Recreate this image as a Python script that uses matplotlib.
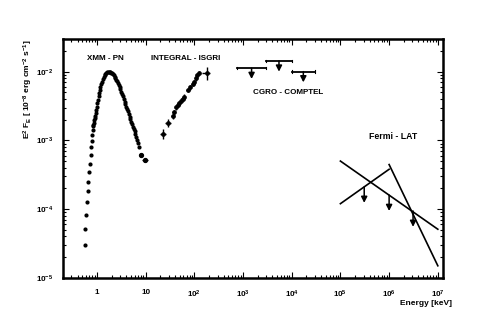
import matplotlib
matplotlib.use("Agg")
import matplotlib.pyplot as plt
import numpy as np
from matplotlib.ticker import LogLocator, FixedLocator, NullFormatter

plt.rcParams['font.family'] = ['Liberation Sans', 'DejaVu Sans']
plt.rcParams['font.weight'] = 'bold'
plt.rcParams['mathtext.fontset'] = 'custom'
plt.rcParams['mathtext.rm'] = 'Liberation Sans:bold'
plt.rcParams['mathtext.it'] = 'Liberation Sans:bold'
plt.rcParams['mathtext.bf'] = 'Liberation Sans:bold'
plt.rcParams['mathtext.default'] = 'rm'

# XMM-PN spectrum (keV, 1e-8 erg cm-2 s-1)
xmm_e = [0.56, 0.575, 0.586, 0.615, 0.644, 0.663, 0.695, 0.729, 0.743, 0.764, 0.778,
         0.80, 0.816, 0.84, 0.85, 0.868, 0.88, 0.90, 0.92, 0.94, 0.967, 0.99, 1.02,
         1.05, 1.08, 1.11, 1.136, 1.17, 1.21, 1.267, 1.32, 1.38, 1.439, 1.50, 1.56,
         1.63, 1.70, 1.76, 1.83, 1.90, 1.97, 2.05, 2.14, 2.22, 2.31, 2.40, 2.50, 2.60,
         2.70, 2.80, 2.92, 3.04, 3.16, 3.28, 3.42, 3.55, 3.70, 3.85, 4.0, 4.17, 4.33,
         4.5, 4.7, 4.88, 5.06, 5.27, 5.5, 5.7, 5.94, 6.15, 6.4, 6.72, 6.95, 7.28]
xmm_f = [3.0e-5, 5.1e-5, 8.2e-5, 1.26e-4, 1.81e-4, 2.52e-4, 3.5e-4, 4.6e-4, 6.2e-4,
         8.0e-4, 9.9e-4, 1.21e-3, 1.43e-3, 1.6e-3, 1.7e-3, 1.79e-3, 1.95e-3, 2.1e-3,
         2.3e-3, 2.5e-3, 2.79e-3, 3.1e-3, 3.45e-3, 3.89e-3, 4.35e-3, 4.9e-3, 5.43e-3,
         5.95e-3, 6.5e-3, 7.17e-3, 7.7e-3, 8.4e-3, 8.96e-3, 9.3e-3, 9.6e-3, 9.8e-3,
         9.95e-3, 1.0e-2, 1.0e-2, 9.85e-3, 9.67e-3, 9.4e-3, 9.1e-3, 8.8e-3, 8.47e-3,
         8.05e-3, 7.6e-3, 7.2e-3, 6.79e-3, 6.35e-3, 5.9e-3, 5.5e-3, 5.13e-3, 4.75e-3,
         4.35e-3, 4.0e-3, 3.67e-3, 3.4e-3, 3.1e-3, 2.85e-3, 2.63e-3, 2.4e-3, 2.2e-3,
         2.05e-3, 1.88e-3, 1.72e-3, 1.58e-3, 1.46e-3, 1.35e-3, 1.24e-3, 1.12e-3,
         1.02e-3, 9.2e-4, 8.0e-4]
xmm_hi_e = [7.9, 9.8]
xmm_hi_f = [6.2e-4, 5.2e-4]
xmm_hi_ex = [0.4, 1.3]
xmm_hi_ey = [0.4e-4, 0.4e-4]

# INTEGRAL-ISGRI
isgri_e = [23, 29.1, 35.8, 38.1, 41.9, 45.4, 49, 53.1, 57.5, 62.1, 72.8, 81.2, 92.3,
           98.6, 106, 115, 124, 179]
isgri_f = [1.25e-3, 1.79e-3, 2.28e-3, 2.55e-3, 3.01e-3, 3.29e-3, 3.48e-3, 3.8e-3,
           4.02e-3, 4.34e-3, 5.43e-3, 5.94e-3, 6.63e-3, 7.16e-3, 8.0e-3, 8.96e-3,
           9.48e-3, 9.67e-3]
isgri_ex = [3, 3.5, 3, 2.5, 2.5, 2.5, 2.5, 3, 3, 3.5, 4, 4.5, 5, 5, 5, 6, 6, 35]
isgri_ey = [1.9e-4, 2.4e-4, 2.5e-4, 2.5e-4, 2.5e-4, 2.5e-4, 2.5e-4, 3e-4, 3e-4,
            3.5e-4, 4e-4, 4.5e-4, 5e-4, 5e-4, 6e-4, 6e-4, 6e-4, 2.0e-3]

# CGRO-COMPTEL upper limits
comptel_lo = [750, 3000, 10000]
comptel_hi = [3000, 10000, 30000]
comptel_f = [1.12e-2, 1.43e-2, 1.0e-2]

# Fermi-LAT butterfly lines and upper limits
lat_a_e = [1e5, 1e7]
lat_a_f = [5.0e-4, 5.1e-5]
lat_b_e = [1e5, 1e6]
lat_b_f = [1.2e-4, 3.8e-4]
lat_c_e = [1e6, 1e7]
lat_c_f = [4.45e-4, 1.5e-5]
lat_ul_e = [3.08e5, 1e6, 3.1e6]
lat_ul_f = [2.1e-4, 1.6e-4, 9.4e-5]

fig = plt.figure(figsize=(4.91, 3.32), dpi=100)
ax = fig.add_axes([0.128, 0.163, 0.774, 0.7195])
ax.set_xscale('log')
ax.set_yscale('log')
ax.set_xlim(0.2, 1.27e7)
ax.set_ylim(1e-5, 2.98e-2)

ax.plot(xmm_e, xmm_f, 'o', color='black', ms=3.0, mew=0)
ax.errorbar(xmm_hi_e, xmm_hi_f, xerr=xmm_hi_ex, yerr=xmm_hi_ey, fmt='o', color='black',
            ms=2.8, elinewidth=0.9, capsize=0)
ax.errorbar(isgri_e, isgri_f, xerr=isgri_ex, yerr=isgri_ey, fmt='o', color='black',
            ms=2.4, elinewidth=1.0, capsize=0)

arrow_kw = dict(arrowstyle='-|>,head_length=0.35,head_width=0.18', color='black', lw=1.1,
                shrinkA=0, shrinkB=0)
for lo, hi, f in zip(comptel_lo, comptel_hi, comptel_f):
    ax.plot([lo, hi], [f, f], color='black', lw=1.3)
    ax.plot([lo, lo], [f / 1.04, f * 1.04], color='black', lw=0.8)
    ax.plot([hi, hi], [f / 1.04, f * 1.04], color='black', lw=0.8)
    c = np.sqrt(lo * hi)
    ax.annotate('', xy=(c, f / 1.43), xytext=(c, f), arrowprops=arrow_kw)

ax.plot(lat_a_e, lat_a_f, color='black', lw=1.2)
ax.plot(lat_b_e, lat_b_f, color='black', lw=1.2)
ax.plot(lat_c_e, lat_c_f, color='black', lw=1.2)
for e, f in zip(lat_ul_e, lat_ul_f):
    ax.annotate('', xy=(e, f / 1.7), xytext=(e, f), arrowprops=arrow_kw)

# texts
fs = 5.8
ax.text(1.46, 1.53e-2, 'XMM - PN', ha='center', va='center', fontsize=fs, fontweight='bold')
ax.text(67, 1.53e-2, 'INTEGRAL - ISGRI', ha='center', va='center', fontsize=fs, fontweight='bold')
ax.text(8600, 4.9e-3, 'CGRO - COMPTEL', ha='center', va='center', fontsize=fs, fontweight='bold')
ax.text(1.2e6, 1.13e-3, 'Fermi - LAT', ha='center', va='center', fontsize=fs + 0.5, fontweight='bold')

# ticks
xt = [1, 10, 1e2, 1e3, 1e4, 1e5, 1e6, 1e7]
xtl = ['1', '10', '$10^{2}$', '$10^{3}$', '$10^{4}$', '$10^{5}$', '$10^{6}$', '$10^{7}$']
yt = [1e-5, 1e-4, 1e-3, 1e-2]
ytl = ['$10^{-5}$', '$10^{-4}$', '$10^{-3}$', '$10^{-2}$']
ax.xaxis.set_major_locator(FixedLocator(xt))
ax.set_xticklabels(xtl)
ax.yaxis.set_major_locator(FixedLocator(yt))
ax.set_yticklabels(ytl)
ax.xaxis.set_minor_locator(LogLocator(base=10, subs=np.arange(2, 10), numticks=30))
ax.yaxis.set_minor_locator(LogLocator(base=10, subs=np.arange(2, 10), numticks=30))
ax.xaxis.set_minor_formatter(NullFormatter())
ax.yaxis.set_minor_formatter(NullFormatter())
ax.tick_params(which='both', direction='in', top=True, right=True, labelsize=5.8, width=0.8)
ax.tick_params(which='major', length=4.5)
ax.tick_params(which='minor', length=2.2)
ax.tick_params(axis='x', pad=8)
ax.tick_params(axis='y', pad=7)
for lab in ax.get_xticklabels() + ax.get_yticklabels():
    lab.set_fontweight('bold')
for s in ax.spines.values():
    s.set_linewidth(1.8)

fig.text(0.92, 0.086, 'Energy [keV]', ha='right', va='center', fontsize=6, fontweight='bold')
fig.text(0.058, 0.73, 'E$^{2}$ F$_{E}$ [ 10$^{-8}$ erg cm$^{-2}$ s$^{-1}$]', rotation=90,
         ha='center', va='center', fontsize=6, fontweight='bold')

fig.savefig('out.png', dpi=100)
